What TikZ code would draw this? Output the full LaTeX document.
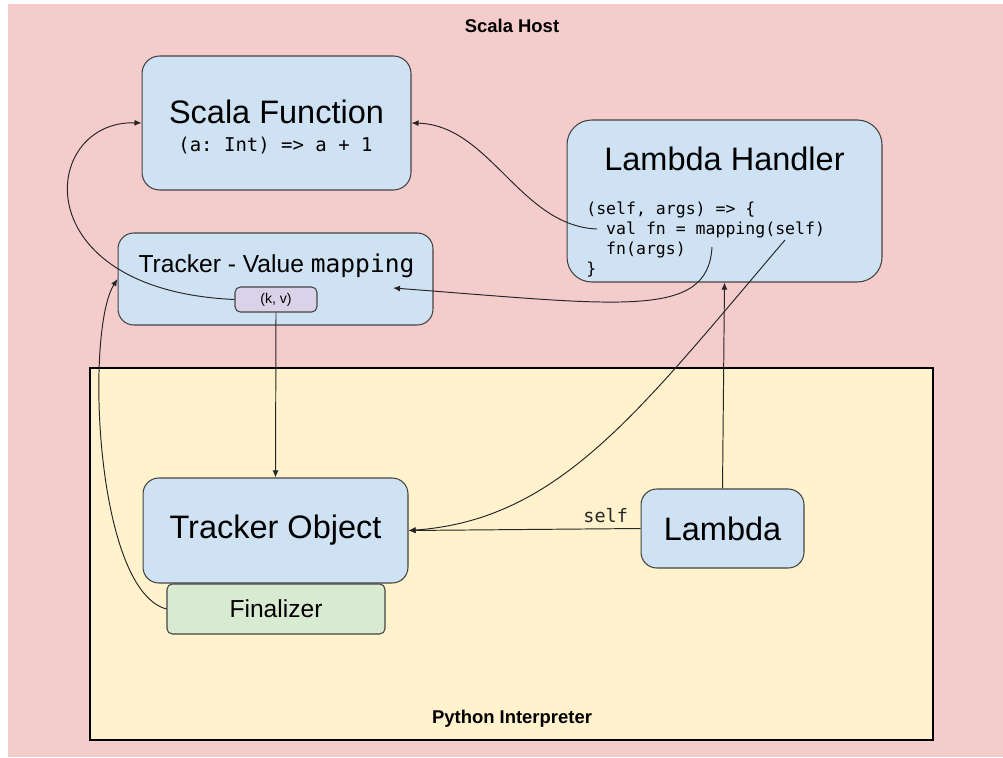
\documentclass[tikz,border=0pt]{standalone}
\usepackage{fontspec}
\setmainfont{Liberation Sans}
\setmonofont{DejaVu Sans Mono}
\usetikzlibrary{arrows.meta}
\definecolor{hostpink}{HTML}{F4CCCC}
\definecolor{pyyellow}{HTML}{FFF2CC}
\definecolor{boxblue}{HTML}{CFE2F3}
\definecolor{boxgreen}{HTML}{D9EAD3}
\definecolor{boxpurple}{HTML}{D9D2E9}
\definecolor{edgegray}{HTML}{434343}
\tikzset{
  box/.style={draw=edgegray, line width=0.6pt, fill=boxblue, rounded corners=9pt, inner sep=0pt},
  conn/.style={line width=0.55pt, black!85, -{Latex[length=4pt,width=3.4pt]}},
  bigtext/.style={font=\fontsize{18.5}{22}\selectfont},
  areatext/.style={font=\bfseries\fontsize{10.5}{12}\selectfont},
}
\begin{document}
\begin{tikzpicture}[x=0.02cm,y=-0.02cm]
\useasboundingbox (0,0) rectangle (1003,757);
\fill[hostpink] (8,4) rectangle (1003,757);
\node[areatext] (hostlabel) at (512,26) {Scala Host};
\draw[fill=pyyellow, line width=0.8pt] (90,368) rectangle (933,740);
\node[areatext] (pylabel) at (512,719) {Python Interpreter};

\node[box, minimum width=5.38cm, minimum height=2.68cm, rounded corners=10pt] (scalafn) at (276.5,123) {};
\node[bigtext, anchor=base] (scalafntitle) at (276.5,123) {Scala Function};
\node[font=\ttfamily\fontsize{10.8}{12}\selectfont, anchor=base] (scalafncode) at (275.5,151) {(a: Int) => a + 1};

\node[box, minimum width=6.3cm, minimum height=1.84cm] (tracker) at (275.5,279) {};
\node[font=\fontsize{14}{16}\selectfont, anchor=base] (trackertitle) at (276.5,272) {Tracker - Value \texttt{mapping}};
\node[box, fill=boxpurple, minimum width=1.64cm, minimum height=0.5cm, rounded corners=3pt, font=\fontsize{8}{9}\selectfont] (kv) at (276,299.5) {(k, v)};

\node[box, minimum width=6.3cm, minimum height=3.24cm, rounded corners=14pt] (handler) at (724.5,201) {};
\node[bigtext, anchor=base] (handlertitle) at (724.5,170) {Lambda Handler};
\node[font=\ttfamily\fontsize{9.4}{11.2}\selectfont, align=left, anchor=north west, inner sep=0pt] (handlercode) at (586,202)
  {(self, args) => \{\\\hphantom{vv}val fn = mapping(self)\\\hphantom{vv}fn(args)\\\}};
\coordinate (valpt) at (597,229);
\coordinate (mappt) at (712,247);
\coordinate (selfpt) at (785,240);
\coordinate (mapin) at (393,288);

\node[box, minimum width=5.3cm, minimum height=2.1cm, bigtext] (trackobj) at (275.5,530.5) {Tracker Object};
\node[box, fill=boxgreen, minimum width=4.36cm, minimum height=1cm, rounded corners=3pt, font=\fontsize{14}{16}\selectfont] (final) at (276,609) {Finalizer};
\node[box, minimum width=3.26cm, minimum height=1.58cm, bigtext] (lambda) at (722.5,528.5) {Lambda};

\draw[conn] (kv.west) .. controls (22,290) and (40,120) .. (scalafn.west);
\draw[conn] (valpt) .. controls (520,226) and (490,125) .. (scalafn.east);
\draw[conn] (mappt) .. controls (708,320) and (620,305) .. (mapin);
\draw[conn] (selfpt) .. controls (640,410) and (560,520) .. (trackobj.east);
\draw[conn] (lambda.west) -- node[above, pos=0.15, font=\ttfamily\fontsize{10.5}{12}\selectfont] (selflabel) {self} (trackobj.east);
\draw[conn] (lambda.north) -- (handler.south);
\draw[conn] (kv.south) -- (trackobj.north);
\draw[conn] (final.west) .. controls (95,590) and (85,330) .. (tracker.west);
\end{tikzpicture}
\end{document}
